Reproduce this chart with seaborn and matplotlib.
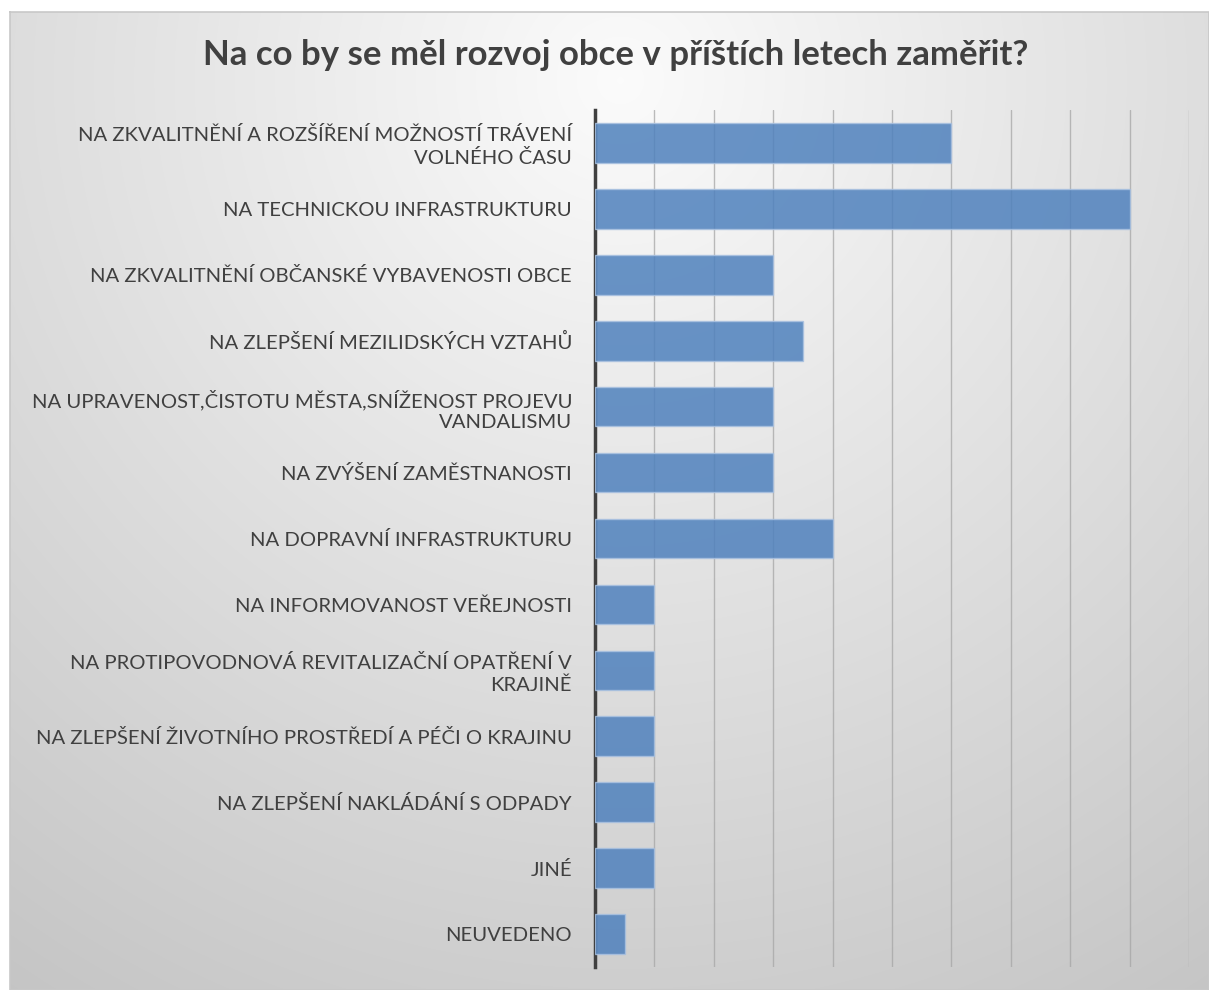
import numpy as np
import matplotlib
matplotlib.use("Agg")
import matplotlib.pyplot as plt
import seaborn as sns

categories = [
    "NA ZKVALITNĚNÍ A ROZŠÍŘENÍ MOŽNOSTÍ TRÁVENÍ\nVOLNÉHO ČASU",
    "NA TECHNICKOU INFRASTRUKTURU",
    "NA ZKVALITNĚNÍ OBČANSKÉ VYBAVENOSTI OBCE",
    "NA ZLEPŠENÍ MEZILIDSKÝCH VZTAHŮ",
    "NA UPRAVENOST,ČISTOTU MĚSTA,SNÍŽENOST PROJEVU\nVANDALISMU",
    "NA ZVÝŠENÍ ZAMĚSTNANOSTI",
    "NA DOPRAVNÍ INFRASTRUKTURU",
    "NA INFORMOVANOST VEŘEJNOSTI",
    "NA PROTIPOVODNOVÁ REVITALIZAČNÍ OPATŘENÍ V\nKRAJINĚ",
    "NA ZLEPŠENÍ ŽIVOTNÍHO PROSTŘEDÍ A PÉČI O KRAJINU",
    "NA ZLEPŠENÍ NAKLÁDÁNÍ S ODPADY",
    "JINÉ",
    "NEUVEDENO",
]
values = [12, 18, 6, 7, 6, 6, 8, 2, 2, 2, 2, 2, 1]
title = "Na co by se měl rozvoj obce v příštích letech zaměřit?"

sns.set_theme(style="white")
plt.rcParams["font.family"] = ["Lato", "DejaVu Sans"]

W, H = 1209, 990
fig = plt.figure(figsize=(W / 100, H / 100), dpi=100)
fig.patch.set_facecolor("white")

# background gradient panel
bg = fig.add_axes([0, 0, 1, 1], zorder=0)
yy, xx = np.mgrid[0:H, 0:W]
d = np.hypot(xx - 620, yy - 80)
g = np.clip(0.985 - 0.000195 * d, 0, 1)
img = np.dstack([g, g, g])
px0, py0 = 10, 12
img[:py0, :, :] = 1.0
img[:, :px0, :] = 1.0
bg.imshow(img, extent=(0, W, H, 0), aspect="auto", interpolation="bilinear")
bg.plot([px0, W, W, px0, px0], [py0, py0, H, H, py0], color="#c8c8c8", lw=1.2)
bg.set_xlim(0, W)
bg.set_ylim(H, 0)
bg.axis("off")

ax = fig.add_axes([595 / W, 1 - 967 / H, (1189 - 595) / W, (967 - 110) / H], zorder=1)
ax.patch.set_alpha(0)
sns.barplot(x=values, y=categories, orient="h", color="#4f81bd", saturation=1,
            width=0.6, edgecolor="#a9c1e0", linewidth=1.0, alpha=0.85, ax=ax, zorder=3)
ax.set_xlim(0, 20)
ax.set_ylim(12.5, -0.5)
ax.set_xticks(np.arange(0, 21, 2))
ax.set_xticklabels([])
ax.xaxis.grid(True, color="#a6a6a6", lw=1.0, alpha=0.75)
ax.set_axisbelow(True)
ax.tick_params(axis="both", length=0)
ax.tick_params(axis="y", pad=16.5, labelsize=14.6, labelcolor="#404040")
for lab in ax.get_yticklabels():
    lab.set_linespacing(1.3)
for s in ["top", "right", "bottom"]:
    ax.spines[s].set_visible(False)
ax.spines["left"].set_color("#404040")
ax.spines["left"].set_linewidth(2.5)
ax.set_xlabel("")
ax.set_ylabel("")

fig.text(616 / W, 1 - 55 / H, title, ha="center", va="center", fontsize=25,
         fontweight="bold", color="#404040")

fig.savefig("out.png", dpi=100)
